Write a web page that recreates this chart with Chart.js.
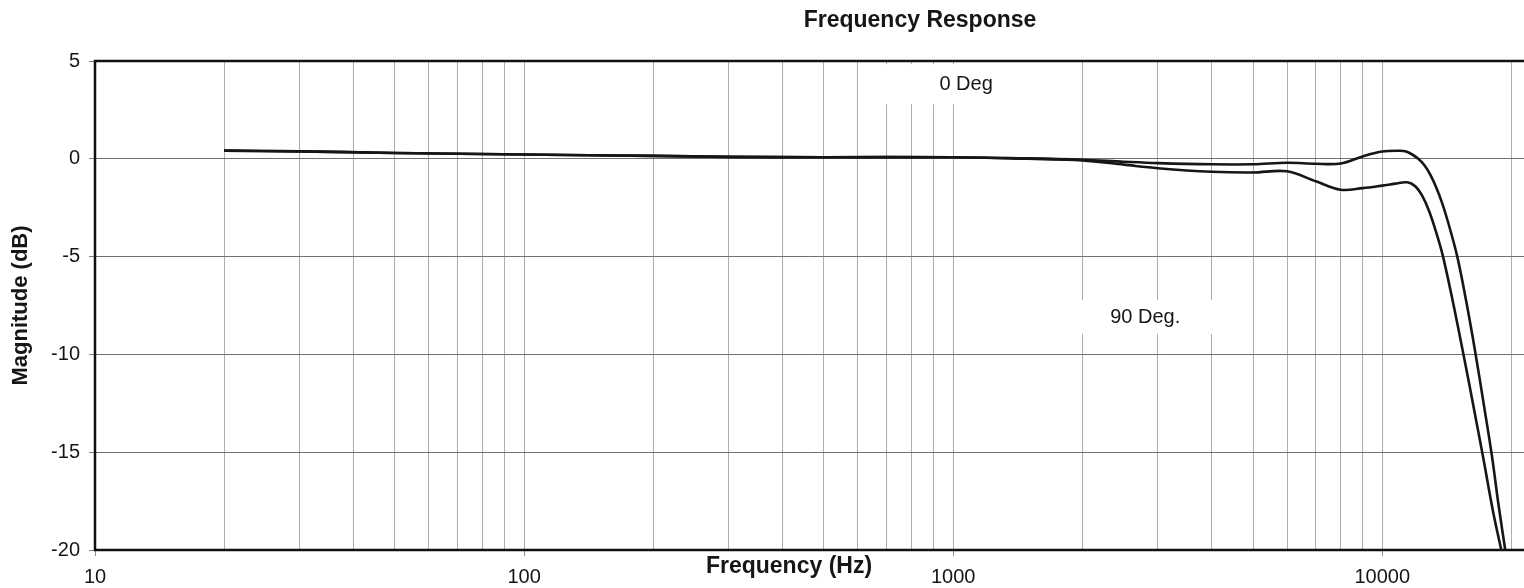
<!DOCTYPE html>
<html>
<head>
<meta charset="utf-8">
<script src="https://cdn.jsdelivr.net/npm/chart.js@4/dist/chart.umd.min.js"></script>
<style>
html,body{margin:0;padding:0;background:#fff;}
#wrap{position:relative;width:1524px;height:588px;}
</style>
</head>
<body>
<div id="wrap"><canvas id="c" width="1524" height="588"></canvas></div>
<script>
// ---- data ----
const freq0Hz = [20, 30, 50, 100, 200, 300, 500, 1000, 1500, 2000, 2500, 3000, 4000, 5000, 6000, 7000, 8000, 9000, 10000, 11000, 11315, 11747, 12133, 12530, 12940, 13364, 13800, 14250, 14960, 15700, 16480, 17200, 18020, 18640, 19350];
const deg0Db  = [0.42, 0.38, 0.30, 0.22, 0.15, 0.10, 0.08, 0.08, 0.02, -0.05, -0.15, -0.22, -0.28, -0.28, -0.20, -0.25, -0.24, 0.12, 0.37, 0.41, 0.38, 0.22, 0.0, -0.32, -0.81, -1.47, -2.28, -3.27, -5.0, -7.3, -9.9, -12.4, -15.2, -17.6, -20];
const freq90Hz = [20, 30, 50, 100, 200, 300, 500, 1000, 1500, 2000, 2500, 3000, 4000, 5000, 6000, 7000, 8000, 9000, 10000, 10722, 11437, 11937, 12398, 12872, 13362, 13876, 14640, 15448, 16300, 17199, 18148, 18944];
const deg90Db  = [0.42, 0.38, 0.30, 0.22, 0.15, 0.10, 0.08, 0.08, 0.00, -0.08, -0.30, -0.48, -0.66, -0.70, -0.64, -1.15, -1.58, -1.50, -1.37, -1.27, -1.20, -1.40, -1.90, -2.69, -3.77, -5.05, -7.4, -9.95, -12.6, -15.3, -18.1, -20];
const seriesLabels = ['0 Deg', '90 Deg.'];
const xGridValues = [10,20,30,40,50,60,70,80,90,100,200,300,400,500,600,700,800,900,1000,2000,3000,4000,5000,6000,7000,8000,9000,10000,20000];
const xLabelValues = [10, 100, 1000, 10000];
const yTickValues = [5, 0, -5, -10, -15, -20];
const chartTitle = 'Frequency Response';
const xTitle = 'Frequency (Hz)';
const yTitle = 'Magnitude (dB)';

const FONT = '"Liberation Sans", Arial, Helvetica, sans-serif';
const INK = '#161616';

const toPoints = (xs, ys) => xs.map((f, i) => ({x: f, y: ys[i]}));

const decor = {
  id: 'decor',
  beforeDraw(chart) {
    const c = chart.ctx;
    c.save();
    c.fillStyle = '#ffffff';
    c.fillRect(0, 0, chart.width, chart.height);
    c.restore();
  },
  beforeDatasetsDraw(chart, args, opts) {
    const c = chart.ctx, xs = chart.scales.x, ys = chart.scales.y, a = chart.chartArea;
    c.save();
    opts.labels.forEach(l => {
      const px = xs.getPixelForValue(l.x), py = ys.getPixelForValue(l.y);
      c.fillStyle = '#ffffff';
      c.fillRect(px - l.hw, py - l.hh, l.hw * 2, l.hh * 2);
      c.fillStyle = INK;
      c.font = '20px ' + FONT;
      c.textAlign = 'center';
      c.textBaseline = 'middle';
      c.fillText(l.text, px, py);
    });
    c.strokeStyle = '#111';
    c.lineWidth = 2.5;
    c.beginPath();
    c.moveTo(a.right, a.top); c.lineTo(a.left, a.top); c.lineTo(a.left, a.bottom); c.lineTo(a.right, a.bottom);
    c.stroke();
    c.restore();
  },
  afterDraw(chart, args, opts) {
    const c = chart.ctx;
    c.save();
    c.fillStyle = INK;
    c.textAlign = 'center';
    c.textBaseline = 'middle';
    c.font = 'bold 23px ' + FONT;
    c.fillText(chartTitle, opts.titleX, opts.titleY);
    c.fillText(xTitle, opts.xTitleX, opts.xTitleY);
    c.restore();
  }
};

new Chart(document.getElementById('c'), {
  type: 'line',
  data: {
    datasets: [
      {label: seriesLabels[0], data: toPoints(freq0Hz, deg0Db), borderColor: INK, borderWidth: 2.6, pointRadius: 0, tension: 0.35, fill: false},
      {label: seriesLabels[1], data: toPoints(freq90Hz, deg90Db), borderColor: INK, borderWidth: 2.6, pointRadius: 0, tension: 0.35, fill: false}
    ]
  },
  options: {
    responsive: false,
    devicePixelRatio: 1,
    animation: false,
    layout: {padding: {top: 61, right: 0, bottom: 0, left: 0}},
    plugins: {
      legend: {display: false},
      tooltip: {enabled: false},
      title: {display: false},
      decor: {
        titleX: 920, titleY: 21,
        xTitleX: 789, xTitleY: 567,
        labels: [
          {text: seriesLabels[0], x: 1072, y: 3.82, hw: 95, hh: 20},
          {text: seriesLabels[1], x: 2803, y: -8.09, hw: 67, hh: 17}
        ]
      }
    },
    scales: {
      x: {
        type: 'logarithmic',
        position: 'bottom',
        min: 10,
        max: 21400,
        bounds: 'data',
        afterBuildTicks: s => { s.ticks = xGridValues.map(v => ({value: v, major: xLabelValues.includes(v)})); },
        afterFit: s => { s.height = 38; s.paddingLeft = 0; s.paddingRight = 0; },
        ticks: {
          autoSkip: false, maxRotation: 0, minRotation: 0, padding: 9, color: INK,
          font: {family: FONT, size: 20},
          callback: v => xLabelValues.includes(v) ? String(v) : ''
        },
        grid: {
          color: '#acacac', lineWidth: 1, tickLength: 6, drawTicks: true,
          tickColor: ctx => (ctx.tick && xLabelValues.includes(ctx.tick.value)) ? '#8a8a8a' : 'rgba(0,0,0,0)'
        },
        border: {display: false}
      },
      y: {
        min: -20,
        max: 5,
        afterBuildTicks: s => { s.ticks = yTickValues.map(v => ({value: v})); },
        afterFit: s => { s.width = 95; },
        ticks: {padding: 9, color: INK, font: {family: FONT, size: 20}},
        grid: {color: '#707070', lineWidth: 1, tickLength: 6, tickColor: '#808080'},
        border: {display: false},
        title: {display: true, text: yTitle, color: INK, font: {family: FONT, size: 22, weight: 'bold'}, padding: {top: 8, bottom: 0}}
      }
    }
  },
  plugins: [decor]
});
</script>
</body>
</html>
